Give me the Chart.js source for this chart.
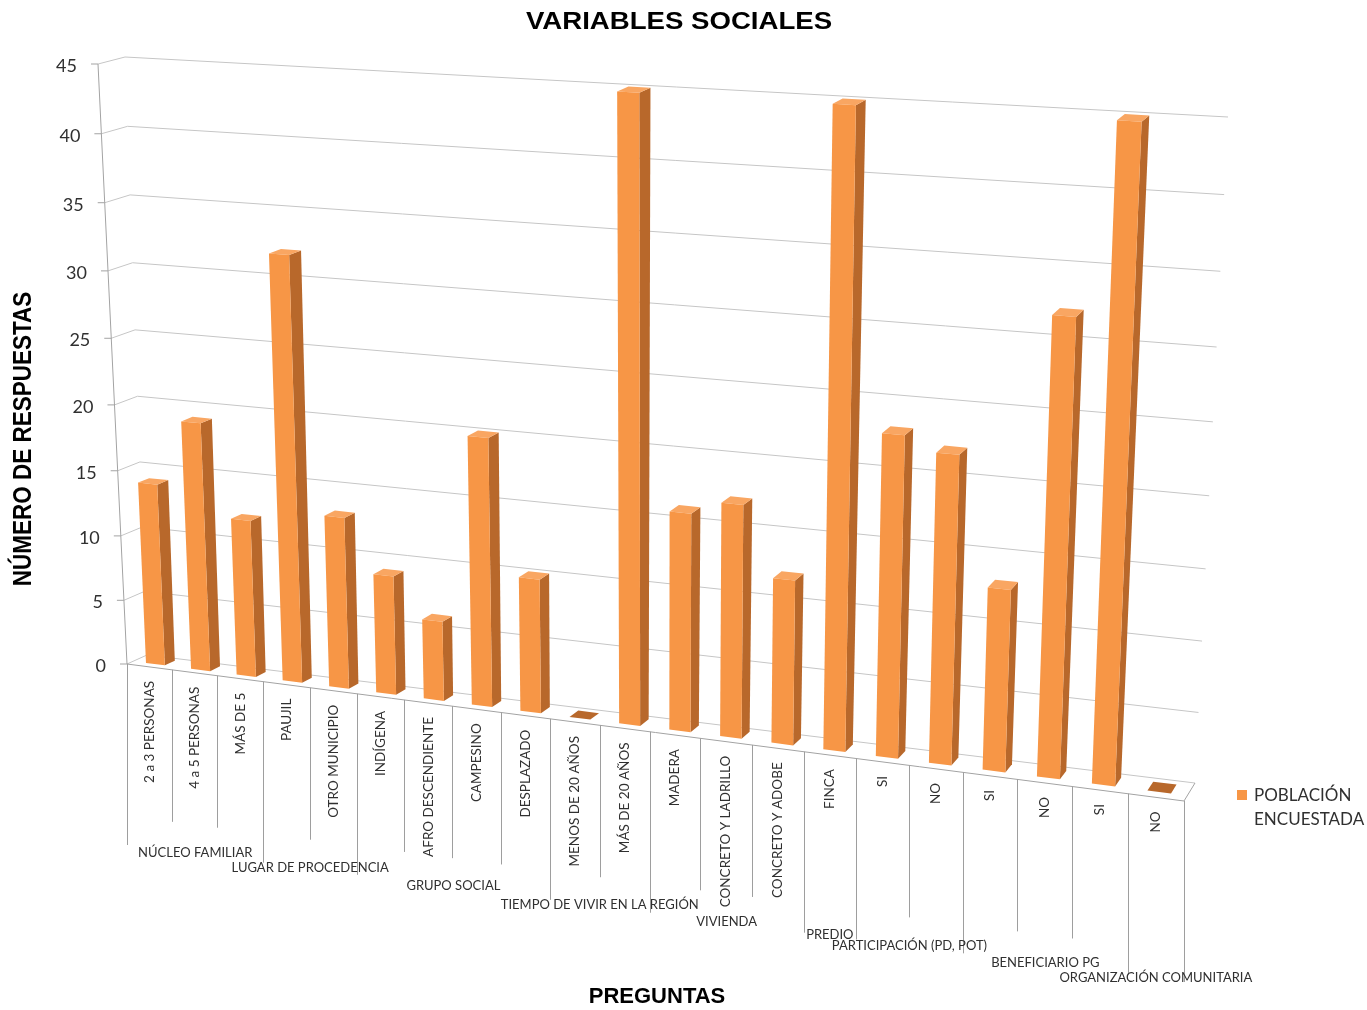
<!DOCTYPE html>
<html lang="es">
<head>
<meta charset="utf-8">
<title>Variables sociales</title>
<script src="https://cdn.jsdelivr.net/npm/chart.js@4.4.1/dist/chart.umd.min.js"></script>
<style>
  html, body { margin: 0; padding: 0; background: #ffffff; }
  #wrap { width: 1367px; height: 1010px; }
  canvas { display: block; }
</style>
</head>
<body>
<div id="wrap"><canvas id="grafico" width="1367" height="1010"></canvas></div>
<script>
// ---- data ----
const categorias = ['2 a 3 PERSONAS', '4 a 5 PERSONAS', 'MÁS DE 5', 'PAUJIL', 'OTRO MUNICIPIO',
  'INDÍGENA', 'AFRO DESCENDIENTE', 'CAMPESINO', 'DESPLAZADO', 'MENOS DE 20 AÑOS', 'MÁS DE 20 AÑOS',
  'MADERA', 'CONCRETO Y LADRILLO', 'CONCRETO Y ADOBE', 'FINCA', 'SI', 'NO', 'SI', 'NO', 'SI', 'NO'];
const respuestas = [14, 19, 12, 32, 13, 9, 6, 20, 10, 0, 45, 16, 17, 12, 45, 23, 22, 13, 32, 45, 0];
const grupos = ['NÚCLEO FAMILIAR', 'LUGAR DE PROCEDENCIA', 'GRUPO SOCIAL', 'TIEMPO DE VIVIR EN LA REGIÓN',
  'VIVIENDA', 'PREDIO', 'PARTICIPACIÓN (PD, POT)', 'BENEFICIARIO PG', 'ORGANIZACIÓN COMUNITARIA'];
const categoriasPorGrupo = [3, 2, 4, 2, 3, 1, 2, 3, 1];
const serie = 'POBLACIÓN ENCUESTADA';
const ejeMin = 0, ejeMax = 45, ejePaso = 5;
const titulo = 'VARIABLES SOCIALES';
const tituloY = 'NÚMERO DE RESPUESTAS';
const tituloX = 'PREGUNTAS';

// ---- look ----
const NARANJA = '#F79646', NARANJA_LADO = '#B8682B', NARANJA_TAPA = '#F9A662';
const GRIS_REJILLA = '#C6C6C6', GRIS_EJE = '#A3A3A3', GRIS_DIV = '#9E9E9E';
const TEXTO = '#303030';
const SANS = 'Lato, "Open Sans", sans-serif';
const NEGRITA = '"Liberation Sans", Arial, sans-serif';

// Perspective frame of the plot box: screen corners of the floor-front plane (w = 0)
// and of the back wall (w = 1), in the order (0,0), (1,0), (1,1), (0,1).
const PLANO_FRONTAL = [[127, 664], [1184, 801], [1214, 130], [98, 64]];
const PLANO_FONDO   = [[147, 655], [1195, 783], [1228, 117], [125, 57]];
const PROF_BARRA = [0.3, 0.8];

function homografia(q) {
  const [x0, y0] = q[0], [x1, y1] = q[1], [x2, y2] = q[2], [x3, y3] = q[3];
  const sx = x0 - x1 + x2 - x3, sy = y0 - y1 + y2 - y3;
  let a, b, c, d, e, f, g = 0, h = 0;
  if (Math.abs(sx) < 1e-9 && Math.abs(sy) < 1e-9) {
    a = x1 - x0; b = x3 - x0; c = x0; d = y1 - y0; e = y3 - y0; f = y0;
  } else {
    const dx1 = x1 - x2, dx2 = x3 - x2, dy1 = y1 - y2, dy2 = y3 - y2;
    const det = dx1 * dy2 - dx2 * dy1;
    g = (sx * dy2 - dx2 * sy) / det;
    h = (dx1 * sy - sx * dy1) / det;
    a = x1 - x0 + g * x1; b = x3 - x0 + h * x3; c = x0;
    d = y1 - y0 + g * y1; e = y3 - y0 + h * y3; f = y0;
  }
  return (u, v) => {
    const den = g * u + h * v + 1;
    return [(a * u + b * v + c) / den, (d * u + e * v + f) / den];
  };
}
const mapaFrontal = homografia(PLANO_FRONTAL);
const mapaFondo = homografia(PLANO_FONDO);
function proyectar(u, v, w) {
  const p = mapaFrontal(u, v), q = mapaFondo(u, v);
  return [p[0] + (q[0] - p[0]) * w, p[1] + (q[1] - p[1]) * w];
}

function poligono(ctx, pts, color) {
  ctx.beginPath();
  ctx.moveTo(pts[0][0], pts[0][1]);
  for (let i = 1; i < pts.length; i++) ctx.lineTo(pts[i][0], pts[i][1]);
  ctx.closePath();
  ctx.fillStyle = color;
  ctx.fill();
}
function linea(ctx, pts, color) {
  ctx.beginPath();
  ctx.moveTo(pts[0][0], pts[0][1]);
  for (let i = 1; i < pts.length; i++) ctx.lineTo(pts[i][0], pts[i][1]);
  ctx.strokeStyle = color;
  ctx.lineWidth = 1;
  ctx.stroke();
}

// ---- 3D column element: the library's bar geometry, drawn as a box in perspective ----
class Columna3D extends Chart.BarElement {
  draw(ctx, area) {
    const { x, y, base, width } = this.getProps(['x', 'y', 'base', 'width']);
    const W = area.right - area.left, H = area.bottom - area.top;
    const uI = (x - width / 2 - area.left) / W, uD = (x + width / 2 - area.left) / W;
    const v0 = (area.bottom - base) / H, v1 = (area.bottom - y) / H;
    const [w0, w1] = PROF_BARRA;
    const P = proyectar;
    ctx.save();
    if (v1 - v0 < 1e-6) {
      poligono(ctx, [P(uI, v0, w0), P(uD, v0, w0), P(uD, v0, w1), P(uI, v0, w1)], NARANJA_LADO);
      ctx.restore();
      return;
    }
    poligono(ctx, [P(uD, v0, w0), P(uD, v0, w1), P(uD, v1, w1), P(uD, v1, w0)], NARANJA_LADO);
    poligono(ctx, [P(uI, v1, w0), P(uD, v1, w0), P(uD, v1, w1), P(uI, v1, w1)], NARANJA_TAPA);
    poligono(ctx, [P(uI, v0, w0), P(uD, v0, w0), P(uD, v1, w0), P(uI, v1, w0)], this.options.backgroundColor);
    ctx.restore();
  }
}
Columna3D.id = 'columna3d';
Columna3D.defaults = Object.assign({}, Chart.BarElement.defaults);
Columna3D.defaultRoutes = Chart.BarElement.defaultRoutes;

class Columnas3DController extends Chart.BarController {
  draw() {
    const area = this.chart.chartArea;
    this._cachedMeta.data.forEach(el => { if (!el.hidden) el.draw(this._ctx, area); });
  }
}
Columnas3DController.id = 'columnas3d';
Columnas3DController.defaults = Object.assign({}, Chart.BarController.defaults, { dataElementType: 'columna3d' });
Columnas3DController.overrides = Chart.BarController.overrides;
Chart.register(Columna3D, Columnas3DController);

function normU(chart, px) { const a = chart.chartArea; return (px - a.left) / (a.right - a.left); }
function normV(chart, py) { const a = chart.chartArea; return (a.bottom - py) / (a.bottom - a.top); }

function texto(ctx, str, x, y, font, color, align, baseline, rot, estirar) {
  ctx.save();
  ctx.translate(x, y);
  if (estirar) ctx.scale(estirar, 1);
  if (rot) ctx.rotate(rot);
  ctx.font = font;
  ctx.fillStyle = color;
  ctx.textAlign = align;
  ctx.textBaseline = baseline;
  ctx.fillText(str, 0, 0);
  ctx.restore();
}

// ---- walls, floor, value axis, category axis, titles and legend ----
const escena = {
  id: 'escena',
  beforeDatasetsDraw(chart) {
    const ctx = chart.ctx, ys = chart.scales.y;
    ctx.save();
    ys.ticks.forEach(t => {
      const v = normV(chart, ys.getPixelForValue(t.value));
      linea(ctx, [proyectar(0, v, 0), proyectar(0, v, 1), proyectar(1, v, 1)], GRIS_REJILLA);
      const p = proyectar(0, v, 0);
      linea(ctx, [[p[0] - 7, p[1]], p], GRIS_EJE);
      texto(ctx, String(t.value), p[0] - 21, p[1] + 2, '18px ' + SANS, TEXTO, 'right', 'middle');
    });
    linea(ctx, [proyectar(0, 0, 0), proyectar(0, 1, 0)], GRIS_EJE);
    linea(ctx, [proyectar(0, 0, 0), proyectar(1, 0, 0), proyectar(1, 0, 1)], GRIS_EJE);
    ctx.restore();
  },
  afterDatasetsDraw(chart) {
    const ctx = chart.ctx, xs = chart.scales.x;
    const n = categorias.length;
    const c0 = xs.getPixelForValue(0), paso = xs.getPixelForValue(1) - c0;
    const borde = k => proyectar(normU(chart, c0 - paso / 2 + k * paso), 0, 0);
    const limites = new Set([0]);
    let acum = 0;
    categoriasPorGrupo.forEach(c => { acum += c; limites.add(acum); });
    ctx.save();
    for (let k = 0; k <= n; k++) {
      const p = borde(k);
      const largo = limites.has(k) ? 181 : 152;
      const xx = Math.round(p[0]) + 0.5;
      linea(ctx, [[xx, p[1]], [xx, p[1] + largo]], GRIS_DIV);
    }
    categorias.forEach((cat, i) => {
      const p = proyectar(normU(chart, xs.getPixelForValue(i)), 0, 0);
      texto(ctx, cat, p[0], p[1] + 14, '13.5px ' + SANS, TEXTO, 'right', 'middle', -Math.PI / 2);
    });
    let ini = 0;
    grupos.forEach((g, j) => {
      const fin = ini + categoriasPorGrupo[j];
      const a = borde(ini), b = borde(fin);
      texto(ctx, g, (a[0] + b[0]) / 2, (a[1] + b[1]) / 2 + 180, '13px ' + SANS, TEXTO, 'center', 'middle');
      ini = fin;
    });
    texto(ctx, titulo, 679, 22, 'bold 24px ' + NEGRITA, '#000', 'center', 'middle', 0, 1.15);
    texto(ctx, tituloY, 23.5, 439, 'bold 22.5px ' + NEGRITA, '#000', 'center', 'middle', -Math.PI / 2, 1.15);
    texto(ctx, tituloX, 657, 997, 'bold 22px ' + NEGRITA, '#000', 'center', 'middle');
    const ds = chart.data.datasets[0];
    ctx.fillStyle = ds.backgroundColor;
    ctx.fillRect(1237, 790, 10, 10);
    ds.label.split(' ').forEach((s, i) => texto(ctx, s, 1254, 796 + i * 24, '17px ' + SANS, TEXTO, 'left', 'middle'));
    ctx.restore();
  }
};

new Chart(document.getElementById('grafico'), {
  type: 'columnas3d',
  data: {
    labels: categorias,
    datasets: [{
      label: serie,
      data: respuestas,
      backgroundColor: NARANJA,
      barPercentage: 0.42,
      categoryPercentage: 1.0
    }]
  },
  options: {
    responsive: false,
    animation: false,
    devicePixelRatio: 1,
    events: [],
    layout: { padding: 0 },
    plugins: { legend: { display: false }, title: { display: false }, tooltip: { enabled: false } },
    scales: {
      x: { type: 'category', display: false, offset: true },
      y: { type: 'linear', display: false, min: ejeMin, max: ejeMax, ticks: { stepSize: ejePaso } }
    }
  },
  plugins: [escena]
});
</script>
</body>
</html>
